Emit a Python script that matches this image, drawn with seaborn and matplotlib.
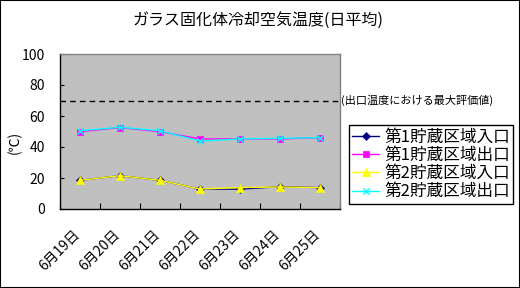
import matplotlib
matplotlib.use("Agg")
import matplotlib.pyplot as plt
import matplotlib.transforms as mtransforms
import seaborn as sns
import pandas as pd
from matplotlib.patches import Rectangle

plt.rcParams['font.family'] = ['Noto Sans CJK JP', 'DejaVu Sans']

title = "ガラス固化体冷却空気温度(日平均)"
categories = ["6月19日", "6月20日", "6月21日", "6月22日", "6月23日", "6月24日", "6月25日"]
series_names = ["第1貯蔵区域入口", "第1貯蔵区域出口", "第2貯蔵区域入口", "第2貯蔵区域出口"]
inlet1 = [18.5, 21.5, 18.5, 12.9, 12.8, 14.4, 13.8]
outlet1 = [49.9, 52.5, 49.9, 45.2, 45.2, 45.2, 46.0]
inlet2 = [18.5, 21.5, 18.5, 12.9, 13.8, 14.2, 13.8]
outlet2 = [50.5, 52.7, 50.5, 43.8, 45.2, 45.6, 46.0]
limit_value = 70
limit_label = "(出口温度における最大評価値)"
ylabel = "(℃)"
yticks = [0, 20, 40, 60, 80, 100]

colors = ["#000080", "#FF00FF", "#FFFF00", "#00FFFF"]
markers = ["D", "s", "^", "x"]
msizes = [4, 5, 6, 5]

fig = plt.figure(figsize=(5.2, 2.88), dpi=100)
ax = fig.add_axes([60/520, 1-209/288, 280/520, 155/288])
ax.set_facecolor("#C0C0C0")

for vals, name, c, m, ms in zip([inlet1, outlet1, inlet2, outlet2], series_names, colors, markers, msizes):
    df = pd.DataFrame({"x": list(range(len(categories))), "y": vals})
    sns.lineplot(data=df, x="x", y="y", ax=ax, color=c, marker=m, markersize=ms,
                 markeredgecolor=c, markeredgewidth=1 if m == "x" else 0.5,
                 linewidth=1, label=name, sort=False)

ax.axhline(limit_value, color="black", linestyle=(0, (4, 3)), linewidth=1)

ax.set_xlim(-0.5, len(categories) - 0.5)
ax.set_ylim(0, 100)
ax.set_xlabel("")
ax.set_ylabel("")
ax.set_yticks(yticks)
ax.set_yticklabels([str(v) for v in yticks], fontsize=10)
ax.tick_params(axis="y", direction="in", length=3, pad=11, width=0.8)
ax.set_xticks(range(len(categories)))
ax.set_xticklabels(categories, fontsize=10, rotation=45, ha="right", va="top",
                   rotation_mode="anchor")
ax.tick_params(axis="x", which="major", length=0, pad=13)
offset = mtransforms.ScaledTranslation(-7/100, 0, fig.dpi_scale_trans)
for lab in ax.get_xticklabels():
    lab.set_transform(lab.get_transform() + offset)
ax.set_xticks([i - 0.5 for i in range(len(categories) + 1)], minor=True)
ax.tick_params(axis="x", which="minor", direction="in", length=4, width=0.8)
for sp in ["top", "right"]:
    ax.spines[sp].set_color("#808080")
    ax.spines[sp].set_linewidth(1)
for sp in ["left", "bottom"]:
    ax.spines[sp].set_color("black")
    ax.spines[sp].set_linewidth(1)

ax.text(1.005, limit_value, limit_label, transform=ax.get_yaxis_transform(),
        fontsize=8, va="center", ha="left")

fig.text(258/520, 1-20/288, title, fontsize=11.5, ha="center", va="center")
fig.text(15/520, 1-142/288, ylabel, fontsize=10, rotation=90, ha="center", va="center")

ax.get_legend().remove()
handles, labels = ax.get_legend_handles_labels()
leg = fig.legend(handles, labels, loc="upper left", bbox_to_anchor=(349/520, 1-125/288),
                 frameon=True, fancybox=False, edgecolor="black", framealpha=1,
                 fontsize=12, handlelength=1.6, handletextpad=0.3, labelspacing=0.08,
                 borderpad=0.2, borderaxespad=0)
leg.get_frame().set_linewidth(1)

fig.patches.append(Rectangle((0, 0), 1, 1, transform=fig.transFigure, fill=False,
                             edgecolor="black", linewidth=1.5))

fig.savefig("out.png", dpi=100)
